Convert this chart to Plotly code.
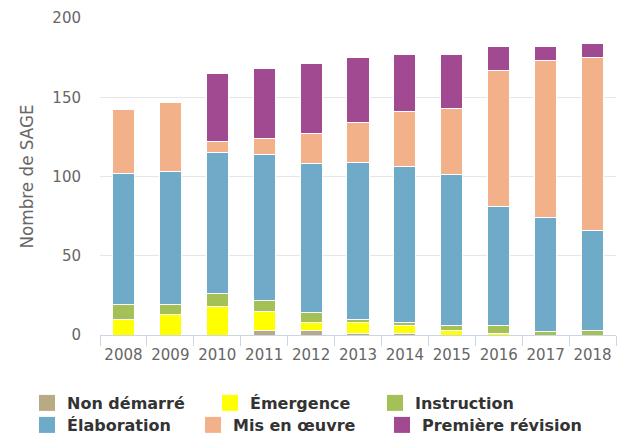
import plotly.graph_objects as go

years = ["2008", "2009", "2010", "2011", "2012", "2013", "2014", "2015", "2016", "2017", "2018"]
non_demarre = [0, 0, 0, 3, 3, 1, 1, 0, 0, 0, 0]
emergence = [10, 13, 18, 12, 5, 7, 5, 3, 1, 0, 0]
instruction = [9, 6, 8, 7, 6, 2, 2, 3, 5, 2, 3]
elaboration = [83, 84, 89, 92, 94, 99, 98, 95, 75, 72, 63]
mis_en_oeuvre = [40, 44, 7, 10, 19, 25, 35, 42, 86, 99, 109]
premiere_revision = [0, 0, 43, 44, 44, 41, 36, 34, 15, 9, 9]

series = [
    ("Non démarré", non_demarre, "#b9aa86"),
    ("Émergence", emergence, "#ffff00"),
    ("Instruction", instruction, "#a3c157"),
    ("Élaboration", elaboration, "#70aac9"),
    ("Mis en œuvre", mis_en_oeuvre, "#f3b189"),
    ("Première révision", premiere_revision, "#a14a91"),
]

W, H = 625, 434
L, R, T, B = 100, 9, 18, 99
pw, ph = W - L - R, H - T - B

# legend text start positions (px) and row centers
leg_pos = [(27, 403), (210, 403), (375, 403), (27, 425), (193, 425), (382, 425)]

fig = go.Figure()
for i, (name, vals, col) in enumerate(series):
    fig.add_trace(go.Bar(
        x=years, y=vals, name=name, showlegend=False, legendgroup=name,
        marker=dict(color=col, line=dict(color="white", width=1)),
    ))
legend_layouts = {}
for i, (name, vals, col) in enumerate(series):
    lname = "legend" if i == 0 else f"legend{i+1}"
    fig.add_trace(go.Scatter(
        x=[None], y=[None], mode="markers", name=name, legendgroup=name,
        legend=lname, showlegend=True,
        marker=dict(symbol="square", size=16, color=col),
    ))
    px, py = leg_pos[i]
    legend_layouts[lname] = dict(
        x=(px - L) / pw, y=(T + ph - py) / ph, xanchor="left", yanchor="middle",
        orientation="h", bgcolor="rgba(0,0,0,0)", borderwidth=0,
        itemsizing="trace",
        font=dict(family="DejaVu Sans", size=16, color="#333333", weight="bold"),
    )

fig.update_layout(
    width=W, height=H, autosize=False,
    margin=dict(l=L, r=R, t=T, b=B, pad=0, autoexpand=False),
    barmode="stack", bargap=0.53,
    plot_bgcolor="white", paper_bgcolor="white",
    font=dict(family="DejaVu Sans", color="#666666"),
    xaxis=dict(
        type="category", showgrid=False, showline=True, linecolor="#ccd6eb", linewidth=1,
        ticks="outside", tickson="boundaries", ticklen=10, tickcolor="#ccd6eb",
        tickangle=0, automargin=False, ticklabelstandoff=6,
        tickfont=dict(size=15, color="#666666"),
    ),
    yaxis=dict(
        range=[0, 200], tickvals=[0, 50, 100, 150, 200], showgrid=True,
        gridcolor="#e6e6e6", gridwidth=1, zeroline=False, showline=False,
        automargin=False,
        tickfont=dict(size=15, color="#666666"), ticklabelstandoff=18,
        title=dict(text="Nombre de SAGE", font=dict(size=16.8, color="#666666"), standoff=14),
    ),
    **legend_layouts,
)

fig.write_html(
    "out.html",
    config={"displayModeBar": False},
    post_script="document.body.style.margin='0';document.body.style.overflow='hidden';",
)
